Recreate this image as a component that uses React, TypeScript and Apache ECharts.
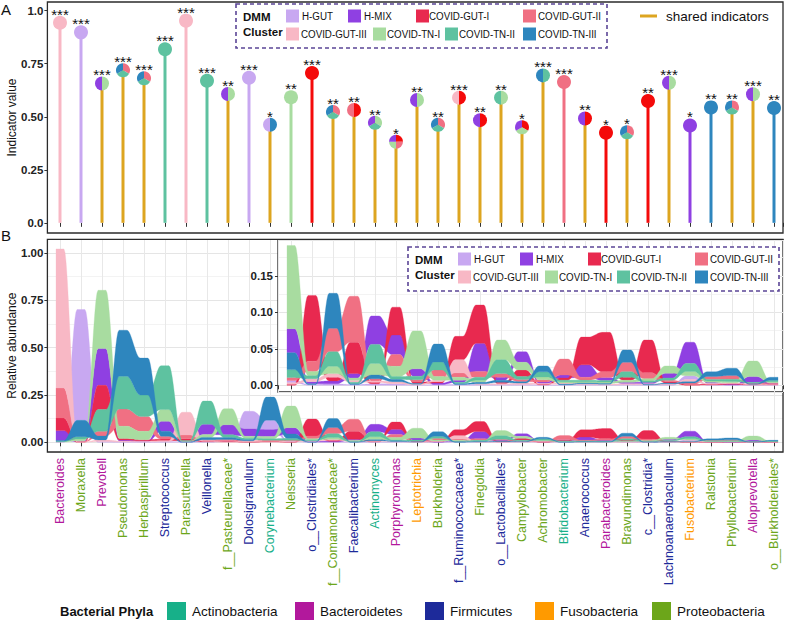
import React, { useEffect, useRef } from "react";
import * as echarts from "echarts";

// ---------- data ----------
const taxa = [
  "Bacteroides", "Moraxella", "Prevotell", "Pseudomonas", "Herbaspirillum", "Streptococcus",
  "Parasutterella", "Veillonella", "f__Pasteurellaceae*", "Dolosigranulum", "Corynebacterium",
  "Neisseria", "o__Clostridiales*", "f__Comamonadaceae*", "Faecalibacterium", "Actinomyces",
  "Porphyromonas", "Leptotrichia", "Burkholderia", "f__Ruminococcaceae*", "Finegoldia",
  "o__Lactobacillales*", "Campylobacter", "Achromobacter", "Bifidobacterium", "Anaerococcus",
  "Parabacteroides", "Bravundimonas", "c__Clostridia*", "Lachnoanaerobaculum", "Fusobacterium",
  "Ralstonia", "Phyllobacterium", "Alloprevotella", "o__Burkholderiales*",
];
const taxaPhylum = [
  "Bacteroidetes", "Proteobacteria", "Bacteroidetes", "Proteobacteria", "Proteobacteria", "Firmicutes",
  "Proteobacteria", "Firmicutes", "Proteobacteria", "Firmicutes", "Actinobacteria",
  "Proteobacteria", "Firmicutes", "Proteobacteria", "Firmicutes", "Actinobacteria",
  "Bacteroidetes", "Fusobacteria", "Proteobacteria", "Firmicutes", "Proteobacteria",
  "Firmicutes", "Proteobacteria", "Proteobacteria", "Actinobacteria", "Firmicutes",
  "Bacteroidetes", "Proteobacteria", "Firmicutes", "Firmicutes", "Fusobacteria",
  "Proteobacteria", "Proteobacteria", "Bacteroidetes", "Proteobacteria",
];
const phyla = ["Actinobacteria", "Bacteroidetes", "Firmicutes", "Fusobacteria", "Proteobacteria"];
const phylaColors = ["#17B089", "#B2189C", "#1D2A9A", "#FF9A00", "#6CA61A"];

const clusters = ["H-GUT", "H-MIX", "COVID-GUT-I", "COVID-GUT-II", "COVID-GUT-III", "COVID-TN-I", "COVID-TN-II", "COVID-TN-III"];
const clusterColors = ["#C8A8F1", "#8F40E2", "#E8294F", "#F07083", "#F8B8C5", "#A8DCA0", "#5EC2A0", "#2E86BE"];
const clusterColorsA = ["#C8A8F1", "#8F40E2", "#F40A0A", "#F07083", "#F8B8C5", "#A8DCA0", "#5EC2A0", "#2E86BE"];
const sharedColor = "#DDA520";

// Panel A: indicator values, clusters (slices clockwise from 12 o'clock), significance
const indicatorValue = [
  0.943, 0.898, 0.657, 0.719, 0.681, 0.818, 0.953, 0.670, 0.607, 0.684, 0.462, 0.592,
  0.706, 0.522, 0.532, 0.472, 0.382, 0.579, 0.462, 0.590, 0.484, 0.590, 0.450, 0.695,
  0.664, 0.492, 0.425, 0.427, 0.574, 0.660, 0.459, 0.544, 0.544, 0.606, 0.541,
];
const indicatorClusters = [
  ["COVID-GUT-III"], ["H-GUT"], ["COVID-TN-I", "H-MIX"], ["COVID-GUT-II", "COVID-TN-II", "COVID-TN-III"],
  ["COVID-GUT-II", "COVID-TN-II", "COVID-TN-III"], ["COVID-TN-II"], ["COVID-GUT-III"], ["COVID-TN-II"],
  ["COVID-TN-I", "H-MIX"], ["H-GUT"], ["COVID-TN-III", "H-GUT"], ["COVID-TN-I"], ["COVID-GUT-I"],
  ["COVID-GUT-II", "COVID-TN-II", "COVID-TN-III"], ["COVID-GUT-I", "COVID-GUT-II"],
  ["COVID-TN-I", "COVID-TN-II", "H-MIX"], ["COVID-GUT-I", "COVID-GUT-II", "COVID-TN-I", "H-MIX"],
  ["COVID-TN-I", "H-MIX"], ["COVID-GUT-II", "COVID-TN-II", "COVID-TN-III"], ["COVID-GUT-I", "COVID-GUT-III"],
  ["COVID-GUT-I", "H-MIX"], ["COVID-TN-I", "COVID-TN-II"], ["COVID-GUT-I", "COVID-TN-I", "H-MIX"],
  ["COVID-TN-II", "COVID-TN-III"], ["COVID-GUT-II"], ["COVID-GUT-I", "H-MIX"], ["COVID-GUT-I"],
  ["COVID-GUT-II", "COVID-TN-II", "COVID-TN-III"], ["COVID-GUT-I"], ["COVID-TN-I", "H-MIX"], ["H-MIX"],
  ["COVID-TN-III"], ["COVID-GUT-II", "COVID-TN-II", "COVID-TN-III"], ["COVID-TN-I", "H-MIX"], ["COVID-TN-III"],
];
const significance = [
  "***", "***", "***", "***", "***", "***", "***", "***", "**", "***", "*", "**",
  "***", "**", "**", "**", "*", "**", "**", "***", "**", "**", "*", "***",
  "***", "**", "*", "*", "**", "***", "*", "**", "**", "***", "**",
];

// Panel B: mean relative abundance per DMM cluster
const abHGut = [0.002, 0.585, 0.005, 0.003, 0.002, 0.004, 0.002, 0.003, 0.004, 0.094, 0.05, 0.003, 0.001, 0.002, 0.001, 0.002, 0.002, 0.0005, 0.001, 0.001, 0.001, 0.001, 0.001, 0.0005, 0.0005, 0.001, 0.0005, 0.001, 0.0005, 0.001, 0.005, 0.0005, 0.0003, 0.0005, 0.0003];
const abHMix = [0.052, 0.004, 0.194, 0.005, 0.004, 0.053, 0.002, 0.055, 0.053, 0.038, 0.036, 0.033, 0.003, 0.004, 0.006, 0.039, 0.027, 0.01, 0.002, 0.003, 0.0385, 0.004, 0.0145, 0.002, 0.004, 0.017, 0.004, 0.002, 0.002, 0.0064, 0.029, 0.0015, 0.001, 0.0079, 0.001];
const abGutI = [0.067, 0.001, 0.128, 0.008, 0.006, 0.008, 0.01, 0.003, 0.003, 0.002, 0.003, 0.0015, 0.09, 0.005, 0.043, 0.002, 0.038, 0.002, 0.002, 0.032, 0.0525, 0.002, 0.009, 0.001, 0.003, 0.038, 0.054, 0.004, 0.045, 0.002, 0.001, 0.001, 0.001, 0.0005, 0.0007];
const abGutII = [0.158, 0.002, 0.025, 0.091, 0.079, 0.015, 0.02, 0.005, 0.006, 0.004, 0.006, 0.004, 0.014, 0.032, 0.063, 0.003, 0.016, 0.003, 0.009, 0.006, 0.008, 0.005, 0.003, 0.003, 0.022, 0.004, 0.008, 0.0128, 0.008, 0.002, 0.002, 0.004, 0.005, 0.001, 0.001];
const abGutIII = [0.734, 0.001, 0.008, 0.004, 0.002, 0.005, 0.12, 0.003, 0.002, 0.002, 0.002, 0.002, 0.004, 0.005, 0.003, 0.002, 0.003, 0.001, 0.002, 0.018, 0.001, 0.001, 0.002, 0.001, 0.0015, 0.001, 0.001, 0.001, 0.001, 0.001, 0.003, 0.001, 0.001, 0.0005, 0.0005];
const abTnI = [0.002, 0.01, 0.308, 0.065, 0.044, 0.062, 0.002, 0.015, 0.085, 0.01, 0.012, 0.114, 0.006, 0.01, 0.003, 0.016, 0.014, 0.052, 0.005, 0.004, 0.003, 0.027, 0.0105, 0.004, 0.002, 0.002, 0.002, 0.003, 0.003, 0.0101, 0.006, 0.002, 0.002, 0.0214, 0.0015];
const abTnII = [0.002, 0.012, 0.115, 0.173, 0.113, 0.232, 0.002, 0.122, 0.015, 0.008, 0.008, 0.011, 0.004, 0.02, 0.002, 0.026, 0.004, 0.005, 0.011, 0.002, 0.004, 0.019, 0.004, 0.007, 0.002, 0.002, 0.002, 0.0077, 0.002, 0.003, 0.011, 0.002, 0.003, 0.001, 0.002];
const abTnIII = [0.004, 0.086, 0.02, 0.243, 0.195, 0.026, 0.001, 0.012, 0.01, 0.006, 0.122, 0.023, 0.001, 0.048, 0.001, 0.005, 0.003, 0.001, 0.0245, 0.001, 0.002, 0.003, 0.002, 0.008, 0.001, 0.001, 0.001, 0.0169, 0.0005, 0.001, 0.002, 0.0065, 0.01, 0.0005, 0.004];
const abundance = [abHGut, abHMix, abGutI, abGutII, abGutIII, abTnI, abTnII, abTnIII];

const INSET_FROM = 11; // Neisseria (0-based)

// ---------- helpers ----------
const FONT = "Liberation Sans, Arial, Helvetica, sans-serif";
const KNOT = 0.38;
const STEPS = 12;

const nT = taxa.length;
const stackLo: number[][] = clusters.map(() => new Array(nT).fill(0));
const stackHi: number[][] = clusters.map(() => new Array(nT).fill(0));
for (let j = 0; j < nT; j++) {
  const order = clusters.map((_, c) => c).sort((a, b) => abundance[a][j] - abundance[b][j] || a - b);
  let acc = 0;
  for (const c of order) {
    stackLo[c][j] = acc;
    acc += abundance[c][j];
    stackHi[c][j] = acc;
  }
}

const smooth = (t: number) => t * t * (3 - 2 * t);

function alluviumRenderer(from: number, to: number) {
  return (params: any, api: any) => {
    const c = params.dataIndex;
    const build = (arr: number[]) => {
      const pts: number[][] = [];
      for (let j = from; j <= to; j++) {
        const xc = j + 1;
        pts.push(api.coord([xc - KNOT / 2, arr[j]]));
        pts.push(api.coord([xc + KNOT / 2, arr[j]]));
        if (j < to) {
          const x0 = xc + KNOT / 2;
          const span = 1 - KNOT;
          for (let k = 1; k < STEPS; k++) {
            const t = k / STEPS;
            pts.push(api.coord([x0 + t * span, arr[j] + smooth(t) * (arr[j + 1] - arr[j])]));
          }
        }
      }
      return pts;
    };
    const top = build(stackHi[c]);
    const bot = build(stackLo[c]).reverse();
    return {
      type: "polygon",
      shape: { points: top.concat(bot) },
      style: { fill: clusterColors[c], stroke: clusterColors[c], lineWidth: 0.3 },
    };
  };
}

function lollipopRenderer(params: any, api: any) {
  const j = params.dataIndex;
  const v = indicatorValue[j];
  const [x, y] = api.coord([j + 1, v]);
  const y0 = api.coord([j + 1, 0])[1];
  const cl = indicatorClusters[j];
  const colorOf = (name: string) => clusterColorsA[clusters.indexOf(name)];
  const stem = cl.length > 1 ? sharedColor : colorOf(cl[0]);
  const R = 7;
  const children: any[] = [
    { type: "line", shape: { x1: x, y1: y0, x2: x, y2: y }, style: { stroke: stem, lineWidth: 3 } },
  ];
  if (cl.length === 1) {
    children.push({ type: "circle", shape: { cx: x, cy: y, r: R }, style: { fill: colorOf(cl[0]) } });
  } else {
    const n = cl.length;
    cl.forEach((name, k) => {
      const a0 = -Math.PI / 2 + (k * 2 * Math.PI) / n;
      children.push({
        type: "sector",
        shape: { cx: x, cy: y, r: R, r0: 0, startAngle: a0, endAngle: a0 + (2 * Math.PI) / n, clockwise: true },
        style: { fill: colorOf(name) },
      });
    });
  }
  children.push({
    type: "text",
    x: x,
    y: y - 8.5,
    style: { text: significance[j], align: "center", verticalAlign: "middle", fontSize: 15, fontFamily: FONT, fill: "#111" },
  });
  return { type: "group", children };
}

const isMult = (v: number, step: number) => Math.abs(v / step - Math.round(v / step)) < 1e-6;
const taxonAt = (v: number) => {
  const r = Math.round(v);
  return Math.abs(v - r) < 1e-6 && r >= 1 && r <= nT ? r - 1 : -1;
};

// legend layout (offsets inside dashed box)
const legendSlots = [
  { sq: 50, tx: 66, row: 0 }, { sq: 112, tx: 128, row: 0 }, { sq: 180, tx: 193, row: 0 }, { sq: 287, tx: 302, row: 0 },
  { sq: 50, tx: 65, row: 1 }, { sq: 137, tx: 151, row: 1 }, { sq: 209, tx: 223, row: 1 }, { sq: 287, tx: 302, row: 1 },
];

function dmmLegend(bx: number, by: number): any[] {
  const els: any[] = [
    {
      type: "rect", z: 100, shape: { x: bx, y: by, width: 371, height: 44 },
      style: { fill: "#fff", stroke: "#5B4596", lineWidth: 1.6, lineDash: [4, 3] },
    },
    { type: "text", z: 101, x: bx + 7, y: by + 13, style: { text: "DMM", font: `bold 11.5px ${FONT}`, fill: "#111", verticalAlign: "middle", textVerticalAlign: "middle" } },
    { type: "text", z: 101, x: bx + 7, y: by + 28, style: { text: "Cluster", font: `bold 11.5px ${FONT}`, fill: "#111", verticalAlign: "middle", textVerticalAlign: "middle" } },
  ];
  clusters.forEach((name, i) => {
    const s = legendSlots[i];
    const cy = by + (s.row === 0 ? 12 : 30);
    els.push({ type: "rect", z: 101, shape: { x: bx + s.sq, y: cy - 6.5, width: 13, height: 13 }, style: { fill: clusterColors[i] } });
    els.push({
      type: "text", z: 101, x: bx + s.tx, y: cy, scaleX: 0.85,
      style: { text: name, font: `11.5px ${FONT}`, fill: "#111", verticalAlign: "middle", textVerticalAlign: "middle" },
    });
  });
  return els;
}

function phylaLegend(): any[] {
  const els: any[] = [
    { type: "text", z: 100, x: 60, y: 611, style: { text: "Bacterial Phyla", font: `bold 13px ${FONT}`, fill: "#111", verticalAlign: "middle", textVerticalAlign: "middle" } },
  ];
  const sqX = [167, 295, 425, 535, 652];
  phyla.forEach((p, i) => {
    els.push({ type: "rect", z: 100, shape: { x: sqX[i], y: 602, width: 19, height: 18 }, style: { fill: phylaColors[i] } });
    els.push({ type: "text", z: 100, x: sqX[i] + 25, y: 611, style: { text: p, font: `13.5px ${FONT}`, fill: "#111", verticalAlign: "middle", textVerticalAlign: "middle" } });
  });
  return els;
}

// ---------- option ----------
const X_MIN = 0.4;
const X_MAX = 0.4 + 735.6 / 21;
const XI_MIN = 11.38;
const XI_MAX = 11.38 + 505 / 21;

const tickLabelStyle = { fontWeight: "bold" as const, fontSize: 11.5, color: "#222", fontFamily: FONT };

const option: any = {
  animation: false,
  textStyle: { fontFamily: FONT },
  grid: [
    { left: 47.4, top: 2, width: 735.6, height: 231, show: true, backgroundColor: "transparent", borderColor: "#2b2b2b", borderWidth: 1.3, z: 3, outerBoundsMode: "none" },
    { left: 47.4, top: 239.3, width: 735.6, height: 212.7, show: true, backgroundColor: "transparent", borderColor: "#2b2b2b", borderWidth: 1.3, z: 3, outerBoundsMode: "none" },
    { left: 278, top: 240, width: 505, height: 152, show: true, backgroundColor: "#ffffff", borderColor: "#2b2b2b", borderWidth: 1.3, z: 4, outerBoundsMode: "none" },
  ],
  xAxis: [
    {
      type: "value", gridIndex: 0, min: X_MIN, max: X_MAX, minInterval: 1, maxInterval: 1, z: 1,
      axisLine: { show: false }, axisTick: { show: true, length: 4, lineStyle: { color: "#333" } },
      axisLabel: { show: false }, splitLine: { show: false },
    },
    {
      type: "value", gridIndex: 1, min: X_MIN, max: X_MAX, minInterval: 1, maxInterval: 1, z: 1,
      axisLine: { show: false }, axisTick: { show: true, length: 4, lineStyle: { color: "#333" } },
      axisLabel: {
        rotate: 90, margin: 6, fontSize: 12.5, fontFamily: FONT, showMinLabel: false, showMaxLabel: false,
        formatter: (v: number) => { const i = taxonAt(v); return i < 0 ? "" : taxa[i]; },
        color: (v: any) => { const i = taxonAt(Number(v)); return i < 0 ? "#000" : phylaColors[phyla.indexOf(taxaPhylum[i])]; },
      },
      splitLine: { show: true, lineStyle: { color: "#E8E8E8", width: 1 } },
    },
    {
      type: "value", gridIndex: 2, min: XI_MIN, max: XI_MAX, minInterval: 1, maxInterval: 1, z: 6,
      axisLine: { show: false }, axisTick: { show: true, length: 4, lineStyle: { color: "#333" } },
      axisLabel: { show: false },
      splitLine: { show: true, lineStyle: { color: "#E8E8E8", width: 1 } },
    },
  ],
  yAxis: [
    {
      type: "value", gridIndex: 0, min: -0.048, max: 1.041, minInterval: 0.25, maxInterval: 0.25, z: 1,
      name: "Indicator value", nameLocation: "middle", nameGap: 29, nameMoveOverlap: false,
      nameTextStyle: { fontSize: 12, color: "#111", fontFamily: FONT },
      axisLine: { show: false }, axisTick: { show: true, length: 3, lineStyle: { color: "#333" } },
      axisLabel: {
        ...tickLabelStyle, margin: 4, showMinLabel: false, showMaxLabel: false,
        formatter: (v: number) => (!isMult(v, 0.25) ? "" : Math.abs(v) < 1e-9 ? "0.0" : Math.abs(v - 1) < 1e-9 ? "1.0" : v.toFixed(2)),
      },
      splitLine: { show: false },
    },
    {
      type: "value", gridIndex: 1, min: -0.051, max: 1.072, minInterval: 0.25, maxInterval: 0.25, z: 1,
      name: "Relative abundance", nameLocation: "middle", nameGap: 29, nameMoveOverlap: false,
      nameTextStyle: { fontSize: 12, color: "#111", fontFamily: FONT },
      axisLine: { show: false }, axisTick: { show: true, length: 3, lineStyle: { color: "#333" } },
      axisLabel: {
        ...tickLabelStyle, margin: 4, showMinLabel: false, showMaxLabel: false,
        formatter: (v: number) => (isMult(v, 0.25) ? v.toFixed(2) : ""),
      },
      splitLine: { show: true, lineStyle: { color: "#E5E5E5", width: 1.2 } },
    },
    {
      type: "value", gridIndex: 1, min: -0.051, max: 1.072, minInterval: 0.125, maxInterval: 0.125, z: 0,
      axisLine: { show: false }, axisTick: { show: false }, axisLabel: { show: false },
      splitLine: { show: true, lineStyle: { color: "#F0F0F0", width: 0.8 } },
    },
    {
      type: "value", gridIndex: 2, min: -0.0092, max: 0.199, minInterval: 0.05, maxInterval: 0.05, z: 6,
      axisLine: { show: false }, axisTick: { show: true, length: 3, lineStyle: { color: "#333" } },
      axisLabel: {
        ...tickLabelStyle, margin: 5, showMinLabel: false, showMaxLabel: false,
        formatter: (v: number) => (isMult(v, 0.05) ? v.toFixed(2) : ""),
      },
      splitLine: { show: true, lineStyle: { color: "#E5E5E5", width: 1.2 } },
    },
    {
      type: "value", gridIndex: 2, min: -0.0092, max: 0.199, minInterval: 0.025, maxInterval: 0.025, z: 5,
      axisLine: { show: false }, axisTick: { show: false }, axisLabel: { show: false },
      splitLine: { show: true, lineStyle: { color: "#F0F0F0", width: 0.8 } },
    },
  ],
  series: [
    {
      type: "custom", name: "indicators", coordinateSystem: "cartesian2d", xAxisIndex: 0, yAxisIndex: 0, z: 2,
      data: indicatorValue.map((v, i) => [i + 1, v]),
      renderItem: lollipopRenderer,
    },
    {
      type: "custom", name: "abundance", coordinateSystem: "cartesian2d", xAxisIndex: 1, yAxisIndex: 1, z: 2,
      data: clusters.map((_, i) => [1, i * 0]),
      renderItem: alluviumRenderer(0, nT - 1),
    },
    {
      type: "custom", name: "abundance-inset", coordinateSystem: "cartesian2d", xAxisIndex: 2, yAxisIndex: 3, z: 7,
      data: clusters.map((_, i) => [INSET_FROM + 1, i * 0]),
      renderItem: alluviumRenderer(INSET_FROM, nT - 1),
    },
  ],
  graphic: {
    elements: [
      { type: "text", z: 100, x: 1, y: 2, style: { text: "A", font: `15px ${FONT}`, fill: "#111" } },
      { type: "text", z: 100, x: 1, y: 228, style: { text: "B", font: `15px ${FONT}`, fill: "#111" } },
      ...dmmLegend(236, 4),
      { type: "line", z: 100, shape: { x1: 640, y1: 16, x2: 657, y2: 16 }, style: { stroke: sharedColor, lineWidth: 3 } },
      { type: "text", z: 100, x: 666, y: 16, style: { text: "shared indicators", font: `13.5px ${FONT}`, fill: "#111", verticalAlign: "middle", textVerticalAlign: "middle" } },
      ...dmmLegend(408, 247),
      ...phylaLegend(),
    ],
  },
};

export default function App() {
  const ref = useRef<HTMLDivElement>(null);
  useEffect(() => {
    if (!ref.current) return;
    const chart = echarts.init(ref.current, null, { renderer: "svg" });
    chart.setOption(option);
    return () => chart.dispose();
  }, []);
  return <div ref={ref} style={{ position: "absolute", left: 0, top: 0, width: 787, height: 620, background: "#fff" }} />;
}
